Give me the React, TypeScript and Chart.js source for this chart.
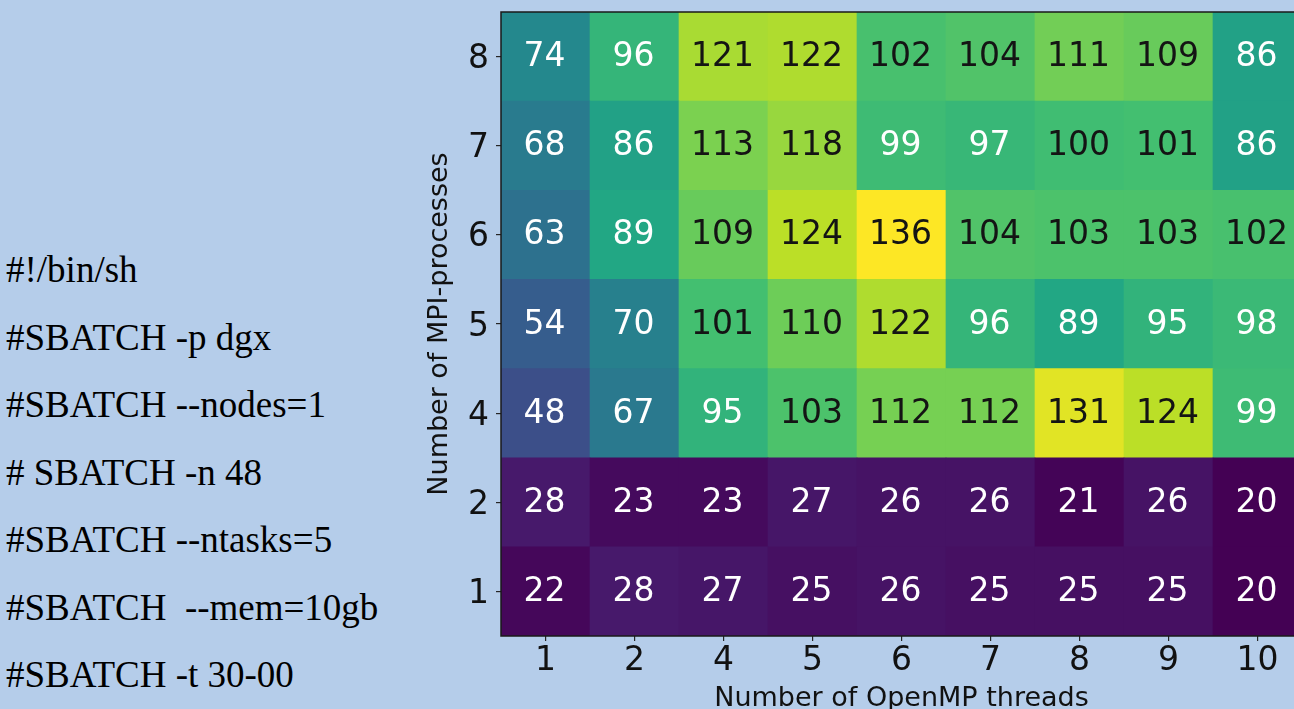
import React, { useEffect, useRef } from "react";
import { Chart, registerables } from "chart.js";

Chart.register(...registerables);

// OpenMP threads (x) and MPI processes (y, bottom to top)
const threadLabels = ["1", "2", "4", "5", "6", "7", "8", "9", "10"];
const mpiLabels = ["1", "2", "4", "5", "6", "7", "8"];

const mpi1 = [22, 28, 27, 25, 26, 25, 25, 25, 20];
const mpi2 = [28, 23, 23, 27, 26, 26, 21, 26, 20];
const mpi4 = [48, 67, 95, 103, 112, 112, 131, 124, 99];
const mpi5 = [54, 70, 101, 110, 122, 96, 89, 95, 98];
const mpi6 = [63, 89, 109, 124, 136, 104, 103, 103, 102];
const mpi7 = [68, 86, 113, 118, 99, 97, 100, 101, 86];
const mpi8 = [74, 96, 121, 122, 102, 104, 111, 109, 86];
const rows = [mpi1, mpi2, mpi4, mpi5, mpi6, mpi7, mpi8];

const scriptLines = [
  "#!/bin/sh",
  "#SBATCH -p dgx",
  "#SBATCH --nodes=1",
  "# SBATCH -n 48",
  "#SBATCH --ntasks=5",
  "#SBATCH  --mem=10gb",
  "#SBATCH -t 30-00",
];

const VIRIDIS = [
  [68, 1, 84],
  [72, 36, 117],
  [65, 68, 135],
  [53, 95, 141],
  [42, 120, 142],
  [33, 145, 140],
  [34, 168, 132],
  [68, 191, 112],
  [122, 209, 81],
  [189, 223, 38],
  [253, 231, 37],
];

function viridisRGB(t: number): number[] {
  const tt = Math.max(0, Math.min(1, t)) * (VIRIDIS.length - 1);
  const i = Math.min(Math.floor(tt), VIRIDIS.length - 2);
  const f = tt - i;
  const a = VIRIDIS[i];
  const b = VIRIDIS[i + 1];
  return [0, 1, 2].map((k) => a[k] + (b[k] - a[k]) * f);
}

function rgbStr(c: number[]) {
  return `rgb(${Math.round(c[0])},${Math.round(c[1])},${Math.round(c[2])})`;
}

const FONT = "'DejaVu Sans', sans-serif";

export default function App() {
  const ref = useRef<HTMLCanvasElement | null>(null);

  useEffect(() => {
    if (!ref.current) return;
    const all = rows.flat();
    const vmin = Math.min(...all);
    const vmax = Math.max(...all);
    const norm = (v: number) => (v - vmin) / (vmax - vmin);

    const annotate = {
      id: "annotate",
      afterDatasetsDraw(chart: any) {
        const ctx = chart.ctx;
        ctx.save();
        ctx.font = `33px ${FONT}`;
        ctx.textAlign = "center";
        ctx.textBaseline = "middle";
        rows.forEach((vals, i) => {
          const meta = chart.getDatasetMeta(i);
          meta.data.forEach((el: any, j: number) => {
            const p = el.getProps(["x", "y", "base"], true);
            const v = vals[j];
            ctx.fillStyle = v >= 100 ? "#141414" : "#ffffff";
            ctx.fillText(String(v), p.x - 1, (p.y + p.base) / 2 + 1);
          });
        });
        ctx.restore();
      },
    };

    const frame = {
      id: "frame",
      afterDraw(chart: any) {
        const { ctx, chartArea } = chart;
        ctx.save();
        ctx.strokeStyle = "#1a1a1a";
        ctx.lineWidth = 1.5;
        ctx.strokeRect(
          chartArea.left,
          chartArea.top,
          chartArea.right - chartArea.left,
          chartArea.bottom - chartArea.top
        );
        ctx.restore();
      },
    };

    const chart = new Chart(ref.current, {
      type: "bar",
      data: {
        labels: threadLabels,
        datasets: rows.map((vals, i) => ({
          label: mpiLabels[i],
          data: vals.map(() => 1),
          backgroundColor: vals.map((v) => rgbStr(viridisRGB(norm(v)))),
          borderWidth: 0,
          barPercentage: 1,
          categoryPercentage: 1,
        })),
      },
      options: {
        responsive: false,
        devicePixelRatio: 1,
        animation: false,
        layout: { padding: { left: 420, top: 42, right: 98, bottom: 0 } },
        plugins: {
          legend: { display: false },
          tooltip: { enabled: false },
        },
        scales: {
          x: {
            type: "category",
            stacked: true,
            offset: true,
            grid: {
              offset: false,
              drawOnChartArea: false,
              drawTicks: true,
              tickLength: 5,
              color: "#262626",
              lineWidth: 1.2,
            },
            border: { display: false },
            ticks: {
              font: { family: FONT, size: 33 },
              color: "#111",
              padding: 1,
              maxRotation: 0,
              autoSkip: false,
            },
            title: {
              display: true,
              text: "Number of OpenMP threads",
              font: { family: FONT, size: 27 },
              color: "#111",
              padding: { top: 0, bottom: 5 },
            },
            afterFit: (s: any) => {
              s.height = 84;
            },
          },
          y: {
            type: "linear",
            stacked: true,
            min: 0,
            max: 7,
            afterBuildTicks: (s: any) => {
              s.ticks = mpiLabels.map((_, i) => ({ value: i + 0.5 }));
            },
            grid: {
              drawOnChartArea: false,
              drawTicks: true,
              tickLength: 5,
              color: "#262626",
              lineWidth: 1.2,
            },
            border: { display: false },
            ticks: {
              font: { family: FONT, size: 33 },
              color: "#111",
              padding: 7,
              labelOffset: 3,
              autoSkip: false,
              callback: (v: any) => mpiLabels[Math.floor(Number(v))],
            },
            title: {
              display: true,
              text: "Number of MPI-processes",
              font: { family: FONT, size: 27 },
              color: "#111",
              padding: { top: 4, bottom: 0 },
            },
            afterFit: (s: any) => {
              s.width = 81;
            },
          },
        },
      },
      plugins: [annotate, frame],
    } as any);

    return () => chart.destroy();
  }, []);

  return (
    <div
      style={{
        position: "fixed",
        left: 0,
        top: 0,
        width: 1294,
        height: 709,
        overflow: "hidden",
        background: "#b5cdea",
      }}
    >
      <div
        style={{
          position: "absolute",
          left: 6,
          top: 236,
          fontFamily: "'Liberation Serif', 'Times New Roman', serif",
          fontSize: 37,
          lineHeight: "67.5px",
          color: "#000",
          whiteSpace: "pre",
        }}
      >
        {scriptLines.map((l, i) => (
          <div key={i}>{l}</div>
        ))}
      </div>
      <canvas
        ref={ref}
        width={1400}
        height={750}
        style={{ position: "absolute", left: 0, top: -30, width: 1400, height: 750 }}
      />
    </div>
  );
}
